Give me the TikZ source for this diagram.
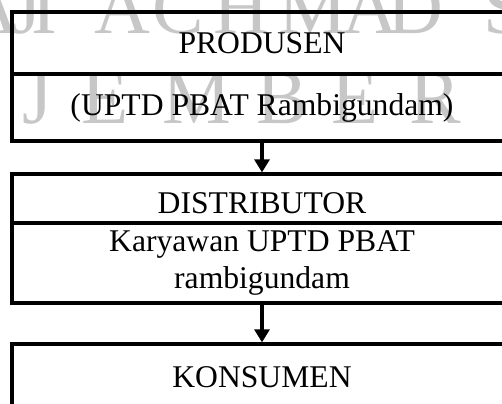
\documentclass[tikz,border=0pt]{standalone}
\usepackage{fontspec}
\setmainfont{Liberation Serif}
\usetikzlibrary{positioning, arrows.meta}

\begin{document}
\begin{tikzpicture}[x=0.02cm, y=-0.02cm,
  wm/.style={text=black!22, font=\fontsize{44}{44}\selectfont, anchor=base, inner sep=0pt},
  part/.style={draw, line width=1.8pt, outer sep=0pt, inner sep=0pt, minimum width=10cm,
    align=center, font=\fontsize{18}{21}\selectfont},
  flow/.style={line width=1.8pt, shorten >=0.9pt, -{Triangle[width=8.5pt,length=7.4pt]}}]
  \useasboundingbox (0,0) rectangle (502,403);
  \clip (0,0) rectangle (502,403);

  % Watermark
  \foreach \ch/\x in {A/-9, J/27, I/44, A/122, C/178, H/241, M/313, A/370, D/415, S/505}
    \node[wm] at (\x,33) {\ch};
  \foreach \ch/\x in {J/38, E/105, M/197, B/282, E/355, R/435}
    \node[wm] at (\x,123) {\ch};

  % Produsen
  \node[part, minimum height=1.24cm, anchor=north] (prod) at (262,12) {PRODUSEN};
  \node[part, minimum height=1.34cm, below=0pt of prod] (prodket) {(UPTD PBAT Rambigundam)};

  % Distributor
  \node[part, minimum height=0.98cm, text height=17.5pt, below=0.66cm of prodket] (dist) {DISTRIBUTOR};
  \node[part, minimum height=1.6cm, below=0pt of dist] (distket) {Karyawan UPTD PBAT\\ rambigundam};

  % Konsumen
  \node[part, minimum height=1.32cm, below=0.82cm of distket] (kons) {KONSUMEN};

  % Panah
  \draw[flow] (prodket) -- (dist);
  \draw[flow] (distket) -- (kons);
\end{tikzpicture}
\end{document}
